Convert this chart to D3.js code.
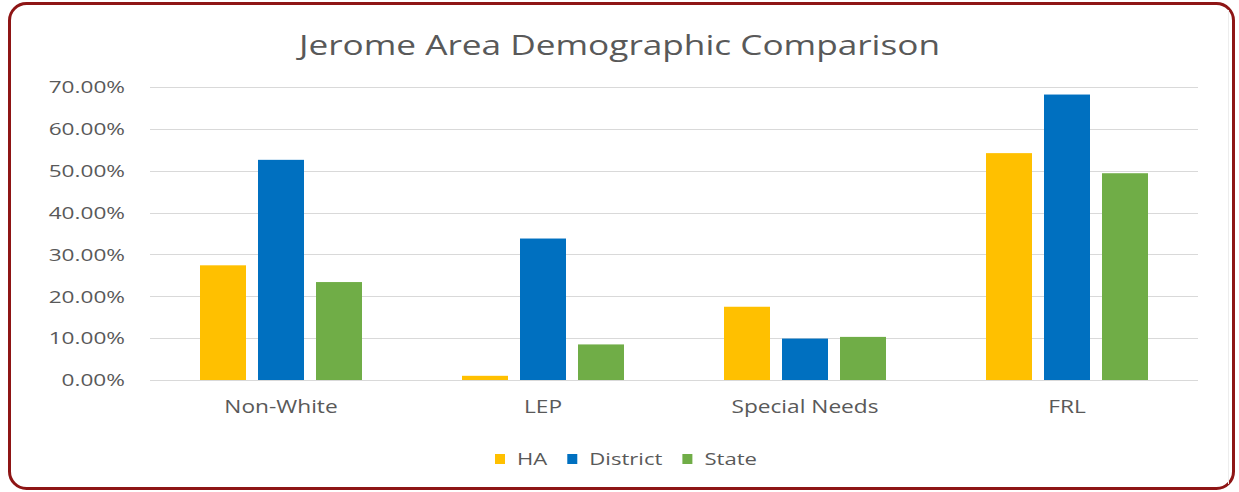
<!DOCTYPE html>
<html>
<head>
<meta charset="utf-8">
<script src="https://cdn.jsdelivr.net/npm/d3@7"></script>
<style>
  html, body { margin: 0; padding: 0; background: #ffffff; }
  svg { display: block; }
  text { font-family: "Open Sans", "DejaVu Sans", sans-serif; fill: #595959; }
</style>
</head>
<body>
<svg id="chart" width="1239" height="492"></svg>
<script>
// ---- data ----
const title = "Jerome Area Demographic Comparison";
const categories = ["Non-White", "LEP", "Special Needs", "FRL"];
const seriesNames = ["HA", "District", "State"];
const haValues = [0.274, 0.010, 0.175, 0.542];
const districtValues = [0.526, 0.338, 0.099, 0.682];
const stateValues = [0.234, 0.085, 0.103, 0.494];
const yTicks = [0, 0.1, 0.2, 0.3, 0.4, 0.5, 0.6, 0.7];
const seriesColors = ["#FFC000", "#0070C0", "#70AD47"];

const seriesValues = [haValues, districtValues, stateValues];

// ---- layout ----
const svg = d3.select("#chart");
const plot = { left: 150, right: 1198, top: 87, bottom: 380 };

// outer frame
svg.append("rect")
  .attr("x", 9.5).attr("y", 3.5)
  .attr("width", 1224).attr("height", 485)
  .attr("rx", 17).attr("ry", 17)
  .attr("fill", "#ffffff")
  .attr("stroke", "#8E1515")
  .attr("stroke-width", 3);

svg.append("line")
  .attr("x1", 1228.5).attr("x2", 1228.5)
  .attr("y1", 10).attr("y2", 484)
  .attr("stroke", "#EDEDED").attr("stroke-width", 1);

const y = d3.scaleLinear().domain([0, 0.7]).range([plot.bottom, plot.top]);

const pInner = 100 / 262;
const x0 = d3.scaleBand().domain(categories)
  .range([plot.left, plot.right])
  .paddingInner(pInner).paddingOuter(pInner / 2);
const x1 = d3.scaleBand().domain(seriesNames)
  .range([0, x0.bandwidth()])
  .paddingInner(12 / 58);

function stretch(sel, k) {
  sel.each(function () {
    const len = this.getComputedTextLength();
    d3.select(this).attr("textLength", len * k).attr("lengthAdjust", "spacingAndGlyphs");
  });
}

// gridlines
svg.append("g")
  .selectAll("line")
  .data(yTicks)
  .join("line")
  .attr("x1", plot.left).attr("x2", plot.right)
  .attr("y1", d => Math.round(y(d)) + 0.5)
  .attr("y2", d => Math.round(y(d)) + 0.5)
  .attr("stroke", "#D9D9D9")
  .attr("stroke-width", 1);

// y axis labels
const yAxis = d3.axisLeft(y).tickValues(yTicks).tickFormat(d3.format(".2%")).tickSize(0).tickPadding(0);
const yAxisG = svg.append("g").attr("transform", "translate(125,0)").call(yAxis);
yAxisG.select(".domain").remove();
yAxisG.selectAll("text")
  .attr("font-size", 17)
  .attr("font-family", null)
  .attr("fill", "#595959")
  .attr("dy", "0.34em")
  .attr("x", 0);
stretch(yAxisG.selectAll("text"), 1.33);

// bars
const groups = svg.append("g")
  .selectAll("g")
  .data(categories)
  .join("g")
  .attr("transform", d => `translate(${x0(d)},0)`);

groups.selectAll("rect")
  .data((c, ci) => seriesNames.map((s, si) => ({ s, si, v: seriesValues[si][ci] })))
  .join("rect")
  .attr("x", d => x1(d.s))
  .attr("width", x1.bandwidth())
  .attr("y", d => y(d.v))
  .attr("height", d => y(0) - y(d.v))
  .attr("fill", d => seriesColors[d.si]);

// x axis labels
const xAxis = d3.axisBottom(x0).tickSize(0).tickPadding(0);
const xAxisG = svg.append("g").attr("transform", `translate(0,${plot.bottom})`).call(xAxis);
xAxisG.select(".domain").remove();
xAxisG.selectAll("text")
  .attr("font-size", 18)
  .attr("font-family", null)
  .attr("fill", "#595959")
  .attr("dy", 0)
  .attr("y", 33);
stretch(xAxisG.selectAll("text"), 1.26);

// title
const t = svg.append("text")
  .attr("x", (299 + 940) / 2)
  .attr("y", 55)
  .attr("text-anchor", "middle")
  .attr("font-size", 28)
  .attr("font-weight", 400)
  .attr("fill", "#595959")
  .text(title);
t.attr("textLength", 641).attr("lengthAdjust", "spacingAndGlyphs");

// legend
const legend = svg.append("g");
let lx = 495;
seriesNames.forEach((name, i) => {
  legend.append("rect")
    .attr("x", lx).attr("y", 454)
    .attr("width", 10).attr("height", 10)
    .attr("fill", seriesColors[i]);
  const tx = legend.append("text")
    .attr("x", lx + 22).attr("y", 465)
    .attr("font-size", 17)
    .attr("fill", "#595959")
    .text(name);
  stretch(tx, 1.3);
  lx += 22 + (+tx.attr("textLength")) + 20;
});
</script>
</body>
</html>
